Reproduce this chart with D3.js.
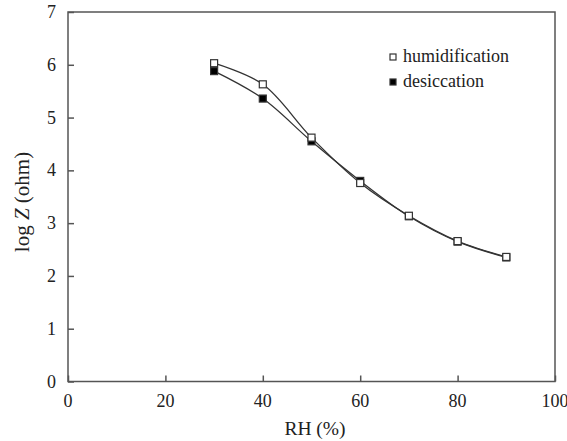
<!DOCTYPE html>
<html>
<head>
<meta charset="utf-8">
<script src="https://cdn.jsdelivr.net/npm/d3@7"></script>
<style>
  body { margin: 0; background: #fff; }
  svg text { font-family: "Liberation Serif", "Times New Roman", serif; fill: #222; }
</style>
</head>
<body>
<svg id="chart" width="567" height="441"></svg>
<script>
// RH values (%)
var rh = [30, 40, 50, 60, 70, 80, 90];
// log Z readings
var humidification = [6.03, 5.63, 4.62, 3.76, 3.14, 2.66, 2.36];
var desiccation = [5.88, 5.36, 4.55, 3.80, 3.13, 2.65, 2.35];
var xTicks = [0, 20, 40, 60, 80, 100];
var yTicks = [0, 1, 2, 3, 4, 5, 6, 7];

var svg = d3.select("#chart");
var plotLeft = 68, plotRight = 555, plotTop = 12, plotBottom = 381.5;
var axisColour = "#555";

var x = d3.scaleLinear().domain([0, 100]).range([plotLeft, plotRight]);
var y = d3.scaleLinear().domain([0, 7]).range([plotBottom, plotTop]);

// frame
svg.append("rect")
    .attr("x", plotLeft).attr("y", plotTop)
    .attr("width", plotRight - plotLeft).attr("height", plotBottom - plotTop)
    .attr("fill", "none")
    .attr("stroke", axisColour)
    .attr("stroke-width", 1.5);

// x axis (ticks pointing inward)
var xAxis = svg.append("g")
    .attr("transform", "translate(0," + plotBottom + ")")
    .call(d3.axisTop(x).tickValues(xTicks).tickSize(6).tickFormat(""));
xAxis.select(".domain").remove();
xAxis.selectAll("line").attr("stroke", axisColour).attr("stroke-width", 1.5);

svg.selectAll(".xlab").data(xTicks).enter().append("text")
    .attr("class", "xlab")
    .attr("x", function (d) { return x(d); })
    .attr("y", 406.5)
    .attr("text-anchor", "middle")
    .attr("font-size", "18px")
    .text(function (d) { return d; });

// y axis
var yAxis = svg.append("g")
    .attr("transform", "translate(" + plotLeft + ",0)")
    .call(d3.axisRight(y).tickValues(yTicks).tickSize(6).tickFormat(""));
yAxis.select(".domain").remove();
yAxis.selectAll("line").attr("stroke", axisColour).attr("stroke-width", 1.5);

svg.selectAll(".ylab").data(yTicks).enter().append("text")
    .attr("class", "ylab")
    .attr("x", 56)
    .attr("y", function (d) { return y(d) + 6; })
    .attr("text-anchor", "end")
    .attr("font-size", "18px")
    .text(function (d) { return d; });

// axis titles
svg.append("text")
    .attr("x", 315)
    .attr("y", 435)
    .attr("text-anchor", "middle")
    .attr("font-size", "19.5px")
    .text("RH (%)");

var yt = svg.append("text")
    .attr("transform", "translate(29,202) rotate(-90)")
    .attr("text-anchor", "middle")
    .attr("font-size", "21px");
yt.append("tspan").text("log ");
yt.append("tspan").attr("font-style", "italic").text("Z");
yt.append("tspan").text(" (ohm)");

// series lines
var line = d3.line()
    .x(function (d) { return x(d[0]); })
    .y(function (d) { return y(d[1]); })
    .curve(d3.curveCatmullRom.alpha(0.5));

var series = [
    { name: "desiccation", values: d3.zip(rh, desiccation), fill: "#000" },
    { name: "humidification", values: d3.zip(rh, humidification), fill: "#fff" }
];

series.forEach(function (s) {
    svg.append("path")
        .datum(s.values)
        .attr("d", line)
        .attr("fill", "none")
        .attr("stroke", "#333")
        .attr("stroke-width", 1.3);
});

series.forEach(function (s) {
    svg.selectAll(".m-" + s.name).data(s.values).enter().append("rect")
        .attr("class", "m-" + s.name)
        .attr("x", function (d) { return x(d[0]) - 3.5; })
        .attr("y", function (d) { return y(d[1]) - 3.5; })
        .attr("width", 7).attr("height", 7)
        .attr("fill", s.fill)
        .attr("stroke", "#333")
        .attr("stroke-width", 1.2);
});

// legend
var legend = svg.append("g").attr("transform", "translate(390,0)");
[["humidification", "#fff", 57], ["desiccation", "#000", 82]].forEach(function (l) {
    legend.append("rect")
        .attr("x", 0).attr("y", l[2] - 3)
        .attr("width", 6).attr("height", 6)
        .attr("fill", l[1])
        .attr("stroke", "#333")
        .attr("stroke-width", 1.2);
    legend.append("text")
        .attr("x", 13).attr("y", l[2] + 5)
        .attr("font-size", "18px")
        .text(l[0]);
});
</script>
</body>
</html>
